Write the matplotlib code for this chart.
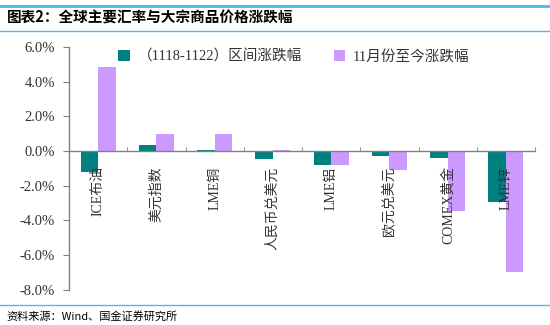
import numpy as np
import matplotlib.pyplot as plt
from matplotlib.lines import Line2D
from matplotlib.ticker import FixedLocator, FuncFormatter

plt.rcParams['font.family'] = ['Liberation Serif', 'Noto Sans CJK SC', 'DejaVu Sans']

# Data (percent)
categories = ["ICE布油", "美元指数", "LME铜", "人民币兑美元", "LME铝", "欧元兑美元", "COMEX黄金", "LME锌"]
week_change = [-1.19, 0.33, 0.05, -0.48, -0.81, -0.27, -0.42, -2.96]
month_change = [4.86, 0.98, 1.00, 0.05, -0.78, -1.10, -3.46, -6.96]
series_names = ["（1118-1122）区间涨跌幅", "11月份至今涨跌幅"]

teal = "#008080"
purple = "#CC99FF"
line_blue = "#4FB8E6"

fig = plt.figure(figsize=(5.5, 3.25), dpi=100)
ax = fig.add_axes([0.1255, 0.1086, 0.8473, 0.7468])

x = np.arange(len(categories))
w = 0.3
ax.bar(x - w / 2, week_change, width=w, color=teal, label=series_names[0], zorder=1)
ax.bar(x + w / 2, month_change, width=w, color=purple, label=series_names[1], zorder=1)
ax.set_axisbelow(False)

ax.set_xlim(-0.5, len(categories) - 0.5)
ax.set_ylim(-8, 6)
ax.set_yticks(np.arange(-8, 7, 2))
ax.yaxis.set_major_formatter(FuncFormatter(lambda v, p: "%.1f%%" % v))

# x axis at zero
ax.spines['bottom'].set_position(('data', 0))
ax.spines['top'].set_visible(False)
ax.spines['right'].set_visible(False)
for s in ['left', 'bottom']:
    ax.spines[s].set_color("#808080")
    ax.spines[s].set_linewidth(1.0)

ax.set_xticks(x)
ax.set_xticklabels(categories, rotation=90, fontsize=10, color="#333333")
ax.tick_params(axis='x', which='major', length=0, pad=11)
ax.xaxis.set_minor_locator(FixedLocator(np.arange(0.5, len(categories), 1)))
ax.tick_params(axis='x', which='minor', length=3, direction='in', color="#808080")
for lbl in ax.get_xticklabels():
    lbl.set_va('top')
ax.tick_params(axis='y', length=4, direction='out', color="#808080", labelsize=10.5, labelcolor="#333333", pad=6)

ax.legend(loc='upper left', bbox_to_anchor=(0.078, 1.045), ncol=2, frameon=False,
          fontsize=10.5, handlelength=0.8, handleheight=0.8, handletextpad=0.5,
          columnspacing=2.2, labelcolor="#333333")

# Title and decorations
fig.add_artist(Line2D([0.0, 1.0], [0.982, 0.982], color=line_blue, lw=2))
fig.text(0.012, 0.945, "图表2：全球主要汇率与大宗商品价格涨跌幅", fontsize=10.5,
         fontweight='bold', style='italic', va='center', ha='left',
         family=['Noto Sans CJK SC', 'DejaVu Sans'])
fig.add_artist(Line2D([0.0, 1.0], [0.905, 0.905], color=line_blue, lw=1))
fig.add_artist(Line2D([0.0, 1.0], [0.062, 0.062], color=line_blue, lw=1))
fig.text(0.012, 0.028, "资料来源：Wind、国金证券研究所", fontsize=8, va='center', ha='left',
         family=['Noto Sans CJK SC', 'DejaVu Sans'])

fig.savefig("out.png", dpi=100)
